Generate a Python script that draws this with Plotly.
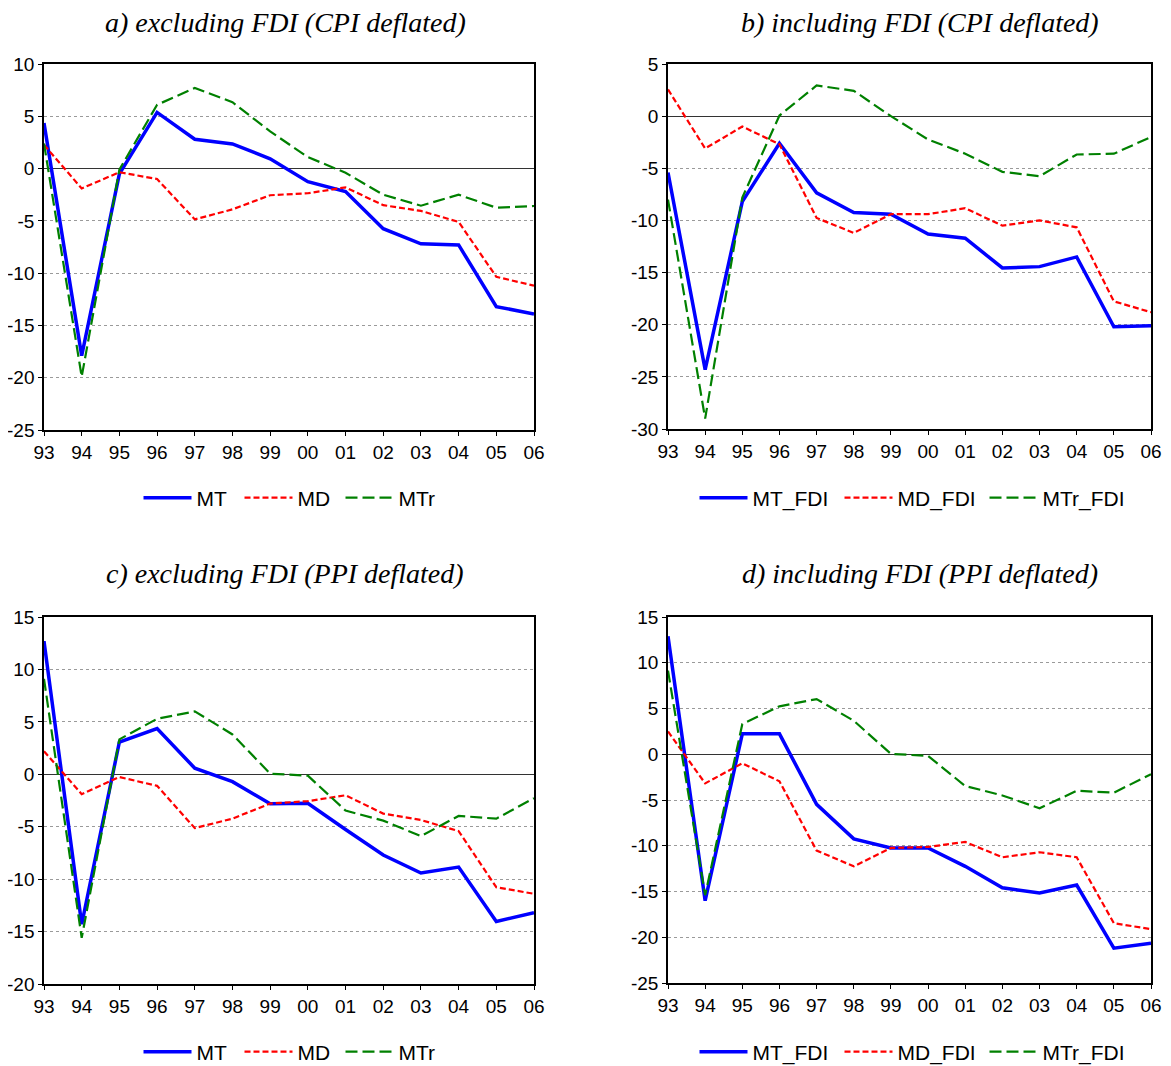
import plotly.graph_objects as go

years = ["93", "94", "95", "96", "97", "98", "99", "00", "01", "02", "03", "04", "05", "06"]

# y tick labels for each panel (hyphen-minus, as in the original)
a_yticks = ["-25", "-20", "-15", "-10", "-5", "0", "5", "10"]
b_yticks = ["-30", "-25", "-20", "-15", "-10", "-5", "0", "5"]
c_yticks = ["-20", "-15", "-10", "-5", "0", "5", "10", "15"]
d_yticks = ["-25", "-20", "-15", "-10", "-5", "0", "5", "10", "15"]

# a) excluding FDI (CPI deflated)
a_MT = [4.35, -17.9, -0.5, 5.37, 2.8, 2.36, 0.93, -1.25, -2.2, -5.75, -7.2, -7.3, -13.2, -13.9]
a_MD = [2.27, -1.9, -0.35, -1.0, -4.86, -3.9, -2.55, -2.36, -1.8, -3.5, -4.05, -5.1, -10.35, -11.2]
a_MTr = [2.4, -19.9, -0.1, 6.1, 7.7, 6.35, 3.55, 1.1, -0.4, -2.5, -3.55, -2.5, -3.74, -3.58]

# b) including FDI (CPI deflated)
b_MT = [-5.4, -24.3, -8.2, -2.6, -7.36, -9.25, -9.4, -11.3, -11.7, -14.56, -14.43, -13.5, -20.2, -20.1]
b_MD = [2.56, -3.1, -1.0, -2.7, -9.76, -11.2, -9.4, -9.4, -8.83, -10.5, -10.0, -10.66, -17.76, -18.8]
b_MTr = [-8.0, -29.0, -7.8, 0.06, 2.94, 2.43, 0.0, -2.24, -3.6, -5.34, -5.76, -3.68, -3.6, -2.0]

# c) excluding FDI (PPI deflated)
c_MT = [12.7, -14.3, 3.08, 4.36, 0.58, -0.7, -2.82, -2.76, -5.26, -7.7, -9.42, -8.85, -14.04, -13.2]
c_MD = [2.2, -1.9, -0.26, -1.1, -5.13, -4.23, -2.79, -2.56, -2.0, -3.75, -4.36, -5.42, -10.77, -11.4]
c_MTr = [9.1, -15.6, 3.33, 5.29, 6.0, 3.8, 0.06, -0.13, -3.46, -4.42, -5.9, -3.97, -4.23, -2.28]

# d) including FDI (PPI deflated)
d_MT = [12.9, -16.0, 2.23, 2.23, -5.48, -9.25, -10.24, -10.24, -12.25, -14.6, -15.17, -14.3, -21.2, -20.66]
d_MD = [2.49, -3.18, -0.99, -2.96, -10.53, -12.25, -10.24, -10.13, -9.58, -11.26, -10.71, -11.26, -18.46, -19.12]
d_MTr = [9.14, -15.4, 3.3, 5.24, 6.03, 3.66, 0.04, -0.18, -3.47, -4.5, -5.9, -3.99, -4.2, -2.19]

titles = ["a) excluding FDI (CPI deflated)", "b) including FDI (CPI deflated)",
          "c) excluding FDI (PPI deflated)", "d) including FDI (PPI deflated)"]
names_plain = ["MT", "MD", "MTr"]
names_fdi = ["MT_FDI", "MD_FDI", "MTr_FDI"]

panels = [
    (a_MT, a_MD, a_MTr, names_plain, a_yticks),
    (b_MT, b_MD, b_MTr, names_fdi, b_yticks),
    (c_MT, c_MD, c_MTr, names_plain, c_yticks),
    (d_MT, d_MD, d_MTr, names_fdi, d_yticks),
]

OFF = 8  # page body margin (figure starts 8px in from the page corner)
W, H = 1171, 1066
# plot areas in page pixels (left, right, top, bottom)
boxes = [(44, 534, 64, 430), (668, 1151, 64, 429), (44, 534, 617, 984), (668, 1151, 617, 983)]
xpos = list(range(len(years)))


def px(x):
    return (x - OFF) / W


def py(y):
    return 1 - (y - OFF) / H


fig = go.Figure()
styles = [dict(color="#0000FF", width=3.5, dash="solid"),
          dict(color="#FF0000", width=2.2, dash="6px,3px"),
          dict(color="#008000", width=2.2, dash="12px,5px")]

legend_centers = [(290, 498), (912, 498), (290, 1052), (912, 1052)]
entry_widths = [38, 82, 38, 82]
tick_font = dict(family="Liberation Sans, Arial", size=19, color="black")
layout_upd = {}
for i, (mt, md, mtr, nm, ytl) in enumerate(panels):
    k = "" if i == 0 else str(i + 1)
    lg = "legend" + k
    for series, name, st in zip([mt, md, mtr], nm, styles):
        fig.add_trace(go.Scatter(x=xpos, y=series, name=name, mode="lines",
                                 line=st, xaxis="x" + k, yaxis="y" + k, legend=lg))
    yvals = [float(v) for v in ytl]
    l, r, t, b = boxes[i]
    layout_upd["xaxis" + k] = dict(
        domain=[px(l), px(r)], anchor="y" + k, range=[0, len(years) - 1], automargin=False,
        tickmode="array", tickvals=xpos, ticktext=years,
        showgrid=False, zeroline=False, showline=True, linecolor="black", linewidth=1.5,
        mirror=True, ticks="outside", ticklen=4, tickcolor="black", tickfont=tick_font)
    layout_upd["yaxis" + k] = dict(
        domain=[py(b), py(t)], anchor="x" + k, range=[yvals[0], yvals[-1]], automargin=False,
        tickmode="array", tickvals=yvals, ticktext=ytl,
        showgrid=True, gridcolor="#9a9a9a", griddash="dot", gridwidth=1,
        zeroline=True, zerolinecolor="#333333", zerolinewidth=1,
        showline=True, linecolor="black", linewidth=1.5, mirror=True,
        ticks="outside", ticklen=4, tickcolor="black", tickfont=tick_font)
    cx, cy = legend_centers[i]
    layout_upd[lg] = dict(orientation="h", x=px(cx), y=py(cy), xanchor="center", yanchor="middle",
                          font=dict(family="Liberation Sans, Arial", size=21, color="black"),
                          bgcolor="rgba(0,0,0,0)", itemwidth=48, tracegroupgap=0,
                          entrywidth=entry_widths[i], entrywidthmode="pixels")

annotations = []
title_pos = [(285, 22), (920, 22), (285, 573), (920, 573)]
for (tx, ty), txt in zip(title_pos, titles):
    annotations.append(dict(text="<i>" + txt + "</i>", x=px(tx), y=py(ty), xref="paper", yref="paper",
                            xanchor="center", yanchor="middle", showarrow=False,
                            font=dict(family="Liberation Serif, Times New Roman", size=28, color="black")))

fig.update_layout(width=W, height=H, margin=dict(l=0, r=0, t=0, b=0),
                  plot_bgcolor="white", paper_bgcolor="white",
                  annotations=annotations, **layout_upd)

fig.write_html("out.html")
